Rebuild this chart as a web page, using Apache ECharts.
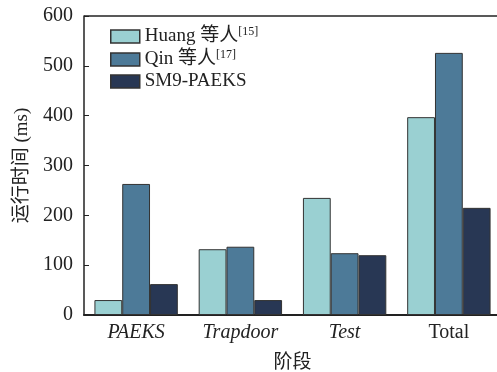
<!DOCTYPE html>
<html>
<head>
<meta charset="utf-8">
<script src="https://cdn.jsdelivr.net/npm/echarts@6/dist/echarts.min.js"></script>
<style>
html, body { margin: 0; padding: 0; background: #fff; }
#main { width: 497px; height: 372px; }
</style>
</head>
<body>
<div id="main"></div>
<script>
var stages = ['PAEKS', 'Trapdoor', 'Test', 'Total'];
var seriesNames = ['Huang 等人', 'Qin 等人', 'SM9-PAEKS'];
var refs = ['[15]', '[17]', ''];
var huangData = [30, 132, 235, 397];
var qinData = [263, 137, 124, 526];
var sm9Data = [62, 30, 120, 215];
var colors = ['#9ad0d2', '#4d7a98', '#283754'];

var font = "'Liberation Serif', 'Noto Sans CJK SC', serif";
var chart = echarts.init(document.getElementById('main'));

function makeSeries(i, data) {
  return {
    name: seriesNames[i],
    type: 'bar',
    data: data,
    barGap: '0%',
    barCategoryGap: '20%',
    itemStyle: { color: colors[i], borderColor: '#333', borderWidth: 1 }
  };
}

var option = {
  animation: false,
  textStyle: { fontFamily: font },
  grid: { left: 84, right: -4, top: 16, bottom: 57, outerBoundsMode: 'none' },
  legend: {
    orient: 'vertical',
    left: 105,
    top: 21,
    itemWidth: 29,
    itemHeight: 13,
    itemGap: 3,
    icon: 'rect',
    itemStyle: { borderColor: '#333', borderWidth: 1.5 },
    formatter: function (name) {
      var i = seriesNames.indexOf(name);
      return refs[i] ? '{n|' + name + '}{s|' + refs[i] + '}' : '{n|' + name + '}';
    },
    textStyle: {
      fontFamily: font,
      color: '#222',
      rich: {
        n: { fontSize: 19, fontFamily: font, color: '#222' },
        s: { fontSize: 12, fontFamily: font, color: '#222', padding: [0, 0, 9, 0] }
      }
    }
  },
  xAxis: {
    type: 'category',
    data: stages,
    name: '阶段',
    nameLocation: 'middle',
    nameGap: 39,
    nameTextStyle: { fontSize: 19, color: '#222', fontFamily: font },
    axisLine: { lineStyle: { color: '#222', width: 2 } },
    axisTick: { show: false },
    axisLabel: {
      margin: 8,
      formatter: function (v) {
        return v === 'Total' ? '{n|' + v + '}' : '{i|' + v + '}';
      },
      rich: {
        i: { fontSize: 20, fontStyle: 'italic', color: '#222', fontFamily: font },
        n: { fontSize: 20, color: '#222', fontFamily: font }
      }
    }
  },
  yAxis: {
    type: 'value',
    min: 0,
    max: 600,
    interval: 100,
    name: '运行时间 (ms)',
    nameLocation: 'middle',
    nameGap: 52,
    nameTextStyle: { fontSize: 19, color: '#222', fontFamily: font },
    axisLine: { show: true, lineStyle: { color: '#222', width: 1.5 } },
    axisTick: { show: true, inside: true, length: 5, lineStyle: { color: '#222' } },
    axisLabel: { fontSize: 20, color: '#222', margin: 11 },
    splitLine: { show: false }
  },
  series: [
    makeSeries(0, huangData),
    makeSeries(1, qinData),
    makeSeries(2, sm9Data)
  ],
  graphic: [{
    type: 'line',
    shape: { x1: 84, y1: 16, x2: 497, y2: 16 },
    style: { stroke: '#222', lineWidth: 1.5 }
  }]
};

chart.setOption(option);
</script>
</body>
</html>
